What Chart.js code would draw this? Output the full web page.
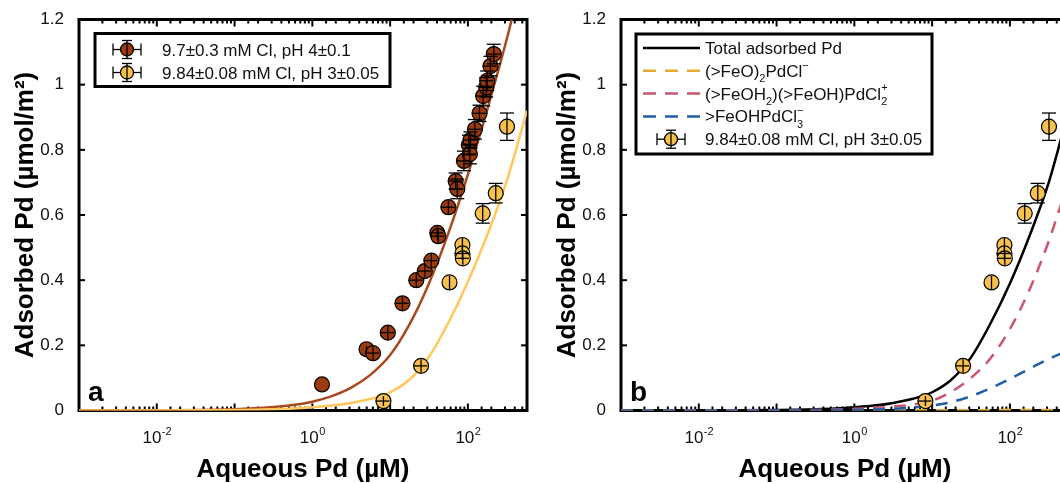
<!DOCTYPE html>
<html>
<head>
<meta charset="utf-8">
<script src="https://cdn.jsdelivr.net/npm/chart.js@4.4.1/dist/chart.umd.min.js"></script>
<style>
  html, body { margin: 0; padding: 0; background: #fff; }
  body { width: 1060px; height: 483px; overflow: hidden; position: relative; }
  .panel { position: absolute; top: 0; width: 548px; height: 483px; }
  #panelA { left: 0; }
  #panelB { left: 542px; }
</style>
</head>
<body>
<div class="panel" id="panelA"><canvas id="chartA" width="548" height="483"></canvas></div>
<div class="panel" id="panelB"><canvas id="chartB" width="548" height="483"></canvas></div>
<script>
// Axis ticks
const xTickValues = [0.01, 1, 100];
const xTickExponents = ["-2", "0", "2"];
const yTickStep = 0.2;

// Measured points, pH 4 (brown)
const ph4X = [1.33, 4.97, 6.03, 9.34, 14.4, 21.7, 27.9, 33.9, 40.4, 41.5, 56.1, 69.5, 73, 88.9, 103, 106, 108, 123, 141, 157, 172, 177, 195, 215];
const ph4Y = [0.08, 0.188, 0.176, 0.239, 0.329, 0.4, 0.428, 0.46, 0.545, 0.535, 0.624, 0.704, 0.68, 0.766, 0.815, 0.787, 0.83, 0.863, 0.912, 0.965, 0.992, 1.012, 1.057, 1.094];
const ph4YErr = [0, 0.01, 0.02, 0.02, 0.02, 0.02, 0.02, 0.02, 0.02, 0.02, 0.02, 0.025, 0.03, 0.03, 0.03, 0.03, 0.025, 0.03, 0.025, 0.03, 0.03, 0.03, 0.03, 0.03];
const ph4XErr = [0, 0, 0.2, 0.2, 0.2, 0.2, 0.2, 0.2, 0.2, 0.2, 0.2, 0.2, 0.2, 0.2, 0.2, 0.2, 0.2, 0.2, 0.2, 0.2, 0.2, 0.2, 0.2, 0.2];

// Measured points, pH 3 (yellow)
const ph3X = [8.2, 25, 58, 85, 85, 86, 155, 228, 318];
const ph3Y = [0.029, 0.137, 0.393, 0.508, 0.482, 0.467, 0.605, 0.667, 0.871];
const ph3YErr = [0.015, 0.02, 0.02, 0.022, 0.02, 0.02, 0.03, 0.03, 0.042];
const ph3XErr = [0.2, 0.2, 0, 0, 0.2, 0.2, 0, 0, 0];

// Model curves, read at quarter-decade steps
const curveX = [0.001, 0.01, 0.1, 0.178, 0.316, 0.562, 1, 1.78, 3.16, 5.62, 10, 17.8, 31.6, 56.2, 100, 178, 316, 575];
const fitPh4Y = [0.0001, 0.0006, 0.0042, 0.0066, 0.0105, 0.0168, 0.027, 0.044, 0.07, 0.11, 0.17, 0.265, 0.39, 0.545, 0.725, 0.925, 1.14, 1.39];
const fitPh3Y = [0.0001, 0.0002, 0.0015, 0.0024, 0.0038, 0.006, 0.0097, 0.015, 0.0233, 0.036, 0.056, 0.095, 0.165, 0.27, 0.395, 0.54, 0.705, 0.92];
const totalY = [0.0001, 0.0002, 0.0015, 0.0024, 0.0038, 0.006, 0.0097, 0.015, 0.0233, 0.036, 0.056, 0.095, 0.163, 0.267, 0.39, 0.535, 0.7, 0.925];
const feoY = [0, 0, 0, 0, 0, 0, 0.0005, 0.0005, 0.0005, 0.0008, 0.001, 0.001, 0.001, 0.0012, 0.0015, 0.0015, 0.0018, 0.002];
const feoh2Y = [0, 0.0002, 0.001, 0.0015, 0.002, 0.003, 0.005, 0.008, 0.012, 0.018, 0.03, 0.058, 0.1, 0.16, 0.25, 0.37, 0.52, 0.71];
const feohY = [0, 0.0001, 0.0004, 0.0006, 0.0009, 0.0013, 0.002, 0.003, 0.005, 0.009, 0.015, 0.026, 0.044, 0.068, 0.097, 0.128, 0.158, 0.186];

// Legend labels
const legendTextA = ["9.7±0.3 mM Cl, pH 4±0.1", "9.84±0.08 mM Cl, pH 3±0.05"];
const legendTextB = [
  [["Total adsorbed Pd", 0]],
  [["(>FeO)", 0], ["2", -1], ["PdCl", 0], ["\u2212", 1]],
  [["(>FeOH", 0], ["2", -1], [")(>FeOH)PdCl", 0], ["2", -1, true], ["+", 1]],
  [[">FeOHPdCl", 0], ["3", -1, true], ["\u2212", 1]],
  [["9.84±0.08 mM Cl, pH 3±0.05", 0]],
];

const FONT = '"Liberation Sans", Arial, Helvetica, sans-serif';
const MARKER_R = 7.5;
const COLORS = {
  brownFill: "#9b3a0c",
  brownLine: "#a8481c",
  yellowFill: "#f8c04c",
  yellowLine: "#ffc75c",
  gold: "#e3aa35",
  red: "#c9566e",
  blue: "#1f5ea8",
};

function toPoints(xs, ys) {
  return xs.map((x, i) => ({ x: x, y: ys[i] }));
}

function seg(ctx, x1, y1, x2, y2) {
  ctx.beginPath();
  ctx.moveTo(x1, y1);
  ctx.lineTo(x2, y2);
  ctx.stroke();
}

/**
 * Text with sub/superscripts: parts are [text, shift, stacked]
 */
function drawRich(ctx, parts, x, y, size) {
  let cx = x;
  parts.forEach(([text, shift, stacked]) => {
    const small = shift !== 0;
    ctx.font = `${small ? Math.round(size * 0.62) : size}px ${FONT}`;
    const dy = shift < 0 ? size * 0.32 : shift > 0 ? -size * 0.48 : 0;
    ctx.fillText(text, cx, y + dy);
    if (!stacked) cx += ctx.measureText(text).width;
  });
}

function drawMarkerIcon(ctx, cx, cy, fill) {
  ctx.strokeStyle = "#000";
  ctx.lineWidth = 1.3;
  seg(ctx, cx - 14, cy, cx + 14, cy);
  seg(ctx, cx - 14, cy - 6, cx - 14, cy + 6);
  seg(ctx, cx + 14, cy - 6, cx + 14, cy + 6);
  seg(ctx, cx, cy - 9, cx, cy + 9);
  seg(ctx, cx - 5, cy - 9, cx + 5, cy - 9);
  seg(ctx, cx - 5, cy + 9, cx + 5, cy + 9);
  ctx.beginPath();
  ctx.arc(cx, cy, 6.5, 0, Math.PI * 2);
  ctx.fillStyle = fill;
  ctx.fill();
  ctx.stroke();
  seg(ctx, cx, cy - 6.5, cx, cy + 6.5);
}

/**
 * Frame and inward ticks
 */
function drawFrame(chart) {
  const { ctx, chartArea: a, scales } = chart;
  ctx.save();
  ctx.strokeStyle = "#000";
  ctx.lineWidth = 2;
  scales.x.ticks.forEach((t) => {
    const px = scales.x.getPixelForValue(t.value);
    if (px <= a.left + 2 || px >= a.right - 2) return;
    const lg = Math.log10(t.value);
    const len = Math.abs(lg - Math.round(lg)) < 1e-6 ? 7 : 4;
    seg(ctx, px, a.bottom, px, a.bottom - len);
    seg(ctx, px, a.top, px, a.top + len);
  });
  scales.y.ticks.forEach((t) => {
    const py = scales.y.getPixelForValue(t.value);
    seg(ctx, a.left, py, a.left + 6, py);
    seg(ctx, a.right, py, a.right - 6, py);
  });
  ctx.lineWidth = 3;
  ctx.strokeRect(a.left, a.top, a.right - a.left, a.bottom - a.top);
  ctx.restore();
}

function drawErrorBars(chart) {
  const { ctx, scales } = chart;
  ctx.save();
  ctx.strokeStyle = "#000";
  ctx.lineWidth = 1.3;
  chart.data.datasets.forEach((ds) => {
    if (!ds.yErr) return;
    ds.data.forEach((p, j) => {
      const px = scales.x.getPixelForValue(p.x);
      const py = scales.y.getPixelForValue(p.y);
      const ey = ds.yErr[j];
      const ex = ds.xErr[j];
      if (ey > 0) {
        const top = scales.y.getPixelForValue(p.y + ey);
        const bot = scales.y.getPixelForValue(p.y - ey);
        seg(ctx, px, top, px, bot);
        if (py - top > MARKER_R) {
          seg(ctx, px - 7, top, px + 7, top);
          seg(ctx, px - 7, bot, px + 7, bot);
        }
      }
      if (ex > 0) {
        const left = scales.x.getPixelForValue(p.x * (1 - ex));
        const right = scales.x.getPixelForValue(p.x * (1 + ex));
        seg(ctx, left, py, right, py);
      }
    });
  });
  ctx.restore();
}

function drawXLabels(chart) {
  const { ctx, scales } = chart;
  ctx.save();
  ctx.fillStyle = "#111";
  ctx.textBaseline = "alphabetic";
  ctx.textAlign = "left";
  xTickValues.forEach((v, i) => {
    const px = scales.x.getPixelForValue(v);
    ctx.font = `17px ${FONT}`;
    const w1 = ctx.measureText("10").width;
    ctx.font = `11px ${FONT}`;
    const w2 = ctx.measureText(xTickExponents[i]).width;
    const x0 = px - (w1 + w2) / 2;
    ctx.font = `17px ${FONT}`;
    ctx.fillText("10", x0, 443);
    ctx.font = `11px ${FONT}`;
    ctx.fillText(xTickExponents[i], x0 + w1 + 0.5, 435);
  });
  ctx.restore();
}

function drawLegend(chart, opts) {
  const L = opts.legend;
  const { ctx, chartArea: a } = chart;
  const x0 = a.left + L.left;
  const y0 = a.top + L.top;
  ctx.save();
  ctx.fillStyle = "#fff";
  ctx.fillRect(x0, y0, L.width, L.height);
  ctx.strokeStyle = "#000";
  ctx.lineWidth = 3;
  ctx.strokeRect(x0, y0, L.width, L.height);
  L.items.forEach((item, i) => {
    const cy = y0 + L.firstRow + i * L.rowGap;
    if (item.kind === "line") {
      ctx.strokeStyle = item.color;
      ctx.lineWidth = 2.5;
      ctx.setLineDash(item.dash);
      seg(ctx, x0 + 7, cy, x0 + 64, cy);
      ctx.setLineDash([]);
    } else {
      drawMarkerIcon(ctx, x0 + L.markerX, cy, item.color);
    }
    ctx.fillStyle = "#111";
    ctx.textBaseline = "alphabetic";
    ctx.textAlign = "left";
    drawRich(ctx, item.text, x0 + L.textX, cy + 6, 17);
  });
  ctx.restore();
}

function drawLetter(chart, opts) {
  const { ctx, chartArea: a } = chart;
  ctx.save();
  ctx.fillStyle = "#000";
  ctx.font = `bold 28px ${FONT}`;
  ctx.textBaseline = "alphabetic";
  ctx.fillText(opts.letter, a.left + 9, a.bottom - 10);
  ctx.restore();
}

const panelDecor = {
  id: "panelDecor",
  beforeDatasetsDraw(chart) {
    drawFrame(chart);
  },
  afterDatasetsDraw(chart) {
    drawErrorBars(chart);
  },
  afterDraw(chart, args, opts) {
    drawXLabels(chart);
    drawLegend(chart, opts);
    drawLetter(chart, opts);
  },
};

function pointsDataset(xs, ys, xErr, yErr, fill) {
  return {
    data: toPoints(xs, ys),
    xErr: xErr,
    yErr: yErr,
    pointRadius: MARKER_R,
    pointBackgroundColor: fill,
    pointBorderColor: "#000",
    pointBorderWidth: 1.2,
    showLine: false,
  };
}

function curveDataset(xs, ys, color, dash) {
  return {
    data: toPoints(xs, ys),
    showLine: true,
    borderColor: color,
    borderWidth: 2.5,
    borderDash: dash,
    pointRadius: 0,
    cubicInterpolationMode: "monotone",
  };
}

function panelOptions(letter, legend) {
  return {
    responsive: false,
    animation: false,
    events: [],
    layout: { padding: { top: 19.5, right: 21, bottom: 0, left: 0 } },
    scales: {
      x: {
        type: "logarithmic",
        min: 0.001,
        max: 575,
        grid: { display: false },
        border: { display: false },
        ticks: { display: false, autoSkip: false },
        title: {
          display: true,
          text: "Aqueous Pd (µM)",
          color: "#000",
          font: { family: FONT, size: 26, weight: "bold", lineHeight: 1 },
          padding: { top: 0, bottom: 0 },
        },
        afterFit: (s) => {
          s.height = 72.5;
        },
      },
      y: {
        type: "linear",
        min: 0,
        max: 1.2,
        grid: { display: false },
        border: { display: false },
        ticks: {
          stepSize: yTickStep,
          color: "#111",
          font: { family: FONT, size: 17 },
          padding: 7,
          callback: (v) => String(Number(v.toFixed(2))),
        },
        title: {
          display: true,
          text: "Adsorbed Pd (µmol/m²)",
          color: "#000",
          font: { family: FONT, size: 26, weight: "bold", lineHeight: 1 },
          padding: { top: 13, bottom: 0 },
        },
        afterFit: (s) => {
          s.width = 79;
        },
      },
    },
    plugins: {
      legend: { display: false },
      tooltip: { enabled: false },
      panelDecor: { letter: letter, legend: legend },
    },
  };
}

// Panel a
new Chart(document.getElementById("chartA"), {
  type: "scatter",
  data: {
    datasets: [
      pointsDataset(ph4X, ph4Y, ph4XErr, ph4YErr, COLORS.brownFill),
      pointsDataset(ph3X, ph3Y, ph3XErr, ph3YErr, COLORS.yellowFill),
      curveDataset(curveX, fitPh3Y, COLORS.yellowLine, []),
      curveDataset(curveX, fitPh4Y, COLORS.brownLine, []),
    ],
  },
  options: panelOptions("a", {
    left: 16,
    top: 14,
    width: 295,
    height: 53,
    firstRow: 16,
    rowGap: 23,
    markerX: 32,
    textX: 67,
    items: [
      { kind: "marker", color: COLORS.brownFill, text: [[legendTextA[0], 0]] },
      { kind: "marker", color: COLORS.yellowFill, text: [[legendTextA[1], 0]] },
    ],
  }),
  plugins: [panelDecor],
});

// Panel b
new Chart(document.getElementById("chartB"), {
  type: "scatter",
  data: {
    datasets: [
      pointsDataset(ph3X, ph3Y, ph3XErr, ph3YErr, COLORS.yellowFill),
      curveDataset(curveX, feohY, COLORS.blue, [12, 9]),
      curveDataset(curveX, feoh2Y, COLORS.red, [12, 9]),
      curveDataset(curveX, feoY, COLORS.gold, [12, 9]),
      curveDataset(curveX, totalY, "#000", []),
    ],
  },
  options: panelOptions("b", {
    left: 15,
    top: 14.5,
    width: 296,
    height: 120,
    firstRow: 14,
    rowGap: 22.8,
    markerX: 35,
    textX: 69,
    items: [
      { kind: "line", color: "#000", dash: [], text: legendTextB[0] },
      { kind: "line", color: COLORS.gold, dash: [13, 9], text: legendTextB[1] },
      { kind: "line", color: COLORS.red, dash: [13, 9], text: legendTextB[2] },
      { kind: "line", color: COLORS.blue, dash: [13, 9], text: legendTextB[3] },
      { kind: "marker", color: COLORS.yellowFill, text: legendTextB[4] },
    ],
  }),
  plugins: [panelDecor],
});
</script>
</body>
</html>
